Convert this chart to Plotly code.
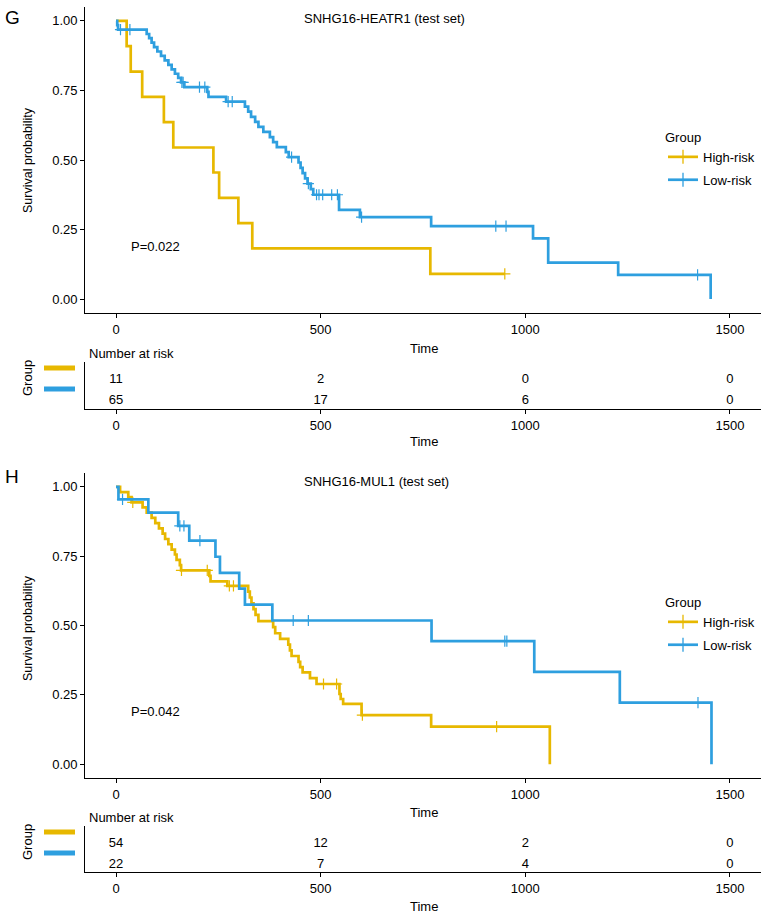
import plotly.graph_objects as go

W, H = 765, 916
FONT = "Liberation Sans, Arial, Helvetica, sans-serif"
C_HIGH = "#E7B800"
C_LOW = "#2E9FDF"

# ---------------- data ----------------
time_ticks = [0, 500, 1000, 1500]
surv_ticks = [0, 0.25, 0.5, 0.75, 1.0]
surv_tick_text = ["0.00", "0.25", "0.50", "0.75", "1.00"]
groups = ["High-risk", "Low-risk"]

# Panel G: SNHG16-HEATR1 (test set)
heatr1_high_event_t = [26, 36, 64, 117, 140, 238, 252, 299, 333, 768]
heatr1_high_surv = [0.909, 0.818, 0.727, 0.636, 0.545, 0.455, 0.364, 0.273, 0.182, 0.091]
heatr1_high_cens_t = [950]

heatr1_low_event_t = [3, 5, 75, 81, 87, 93, 101, 110, 119, 128, 136, 144, 152, 159, 167,
                      223, 226, 269, 315, 323, 330, 340, 348, 360, 376, 384, 393, 415, 422,
                      446, 451, 456, 462, 468, 476, 482, 545, 596, 770, 1019, 1056, 1227, 1453]
heatr1_low_surv = [0.985, 0.969, 0.953, 0.938, 0.922, 0.906, 0.890, 0.874, 0.858, 0.842, 0.826,
                   0.810, 0.795, 0.779, 0.762, 0.745, 0.727, 0.710, 0.692, 0.674, 0.655, 0.637,
                   0.619, 0.601, 0.582, 0.564, 0.546, 0.528, 0.510, 0.491, 0.472, 0.453, 0.434,
                   0.415, 0.395, 0.375, 0.321, 0.295, 0.262, 0.218, 0.131, 0.087, 0.0]
heatr1_low_cens_t = [11, 34, 161, 164, 204, 217, 274, 284, 429, 470, 490, 496, 505, 527, 541,
                     600, 928, 953, 1421]

heatr1_risk_high = [11, 2, 0, 0]
heatr1_risk_low = [65, 17, 6, 0]
heatr1_pval = "P=0.022"
heatr1_title = "SNHG16-HEATR1 (test set)"

# Panel H: SNHG16-MUL1 (test set)
mul1_high_event_t = [10, 30, 38, 65, 75, 87, 96, 105, 114, 120, 128, 136, 144, 148, 156, 159,
                     228, 231, 272, 323, 327, 331, 336, 341, 348, 384, 389, 401, 421, 425, 429,
                     446, 450, 456, 474, 490, 546, 549, 555, 600, 770, 1060]
mul1_high_surv = [0.981, 0.963, 0.944, 0.926, 0.907, 0.888, 0.869, 0.850, 0.831, 0.812, 0.793,
                  0.774, 0.756, 0.737, 0.718, 0.699, 0.679, 0.659, 0.643, 0.622, 0.601, 0.580,
                  0.559, 0.538, 0.516, 0.494, 0.472, 0.452, 0.431, 0.410, 0.390, 0.369, 0.350,
                  0.331, 0.310, 0.289, 0.253, 0.235, 0.217, 0.177, 0.135, 0.0]
mul1_high_cens_t = [41, 160, 223, 277, 287, 507, 539, 602, 930]

mul1_low_event_t = [6, 79, 152, 179, 243, 254, 301, 315, 382, 771, 1022, 1231, 1455]
mul1_low_surv = [0.955, 0.907, 0.859, 0.806, 0.748, 0.690, 0.633, 0.575, 0.518, 0.444,
                 0.333, 0.222, 0.0]
mul1_low_cens_t = [16, 156, 166, 205, 433, 470, 950, 955, 1422]

mul1_risk_high = [54, 12, 2, 0]
mul1_risk_low = [22, 7, 4, 0]
mul1_pval = "P=0.042"
mul1_title = "SNHG16-MUL1 (test set)"


# ---------------- helpers ----------------
def px(x):
    return x / W


def py(y):
    return 1 - y / H


def step_xy(event_t, surv, cens_t):
    xs, ys = [0], [1.0]
    for t, s in zip(event_t, surv):
        xs.append(t)
        ys.append(s)
    if cens_t and max(cens_t) > xs[-1]:
        xs.append(max(cens_t))
        ys.append(ys[-1])
    return xs, ys


def surv_at(t, event_t, surv):
    s = 1.0
    for et, sv in zip(event_t, surv):
        if et <= t:
            s = sv
    return s


fig = go.Figure()

panels = [
    dict(ax="", rx="2", curves=[
        (heatr1_high_event_t, heatr1_high_surv, heatr1_high_cens_t, C_HIGH),
        (heatr1_low_event_t, heatr1_low_surv, heatr1_low_cens_t, C_LOW)],
        risk=[heatr1_risk_high, heatr1_risk_low], legend="legend"),
    dict(ax="3", rx="4", curves=[
        (mul1_high_event_t, mul1_high_surv, mul1_high_cens_t, C_HIGH),
        (mul1_low_event_t, mul1_low_surv, mul1_low_cens_t, C_LOW)],
        risk=[mul1_risk_high, mul1_risk_low], legend="legend2"),
]

for p in panels:
    xa = "x" + p["ax"]
    ya = "y" + p["ax"]
    for (et, sv, ct, col) in p["curves"]:
        xs, ys = step_xy(et, sv, ct)
        fig.add_trace(go.Scatter(x=xs, y=ys, mode="lines", xaxis=xa, yaxis=ya,
                                 line=dict(color=col, width=2.7, shape="hv"),
                                 showlegend=False, hoverinfo="skip"))
        fig.add_trace(go.Scatter(x=ct, y=[surv_at(t, et, sv) for t in ct], mode="markers",
                                 xaxis=xa, yaxis=ya, showlegend=False, hoverinfo="skip",
                                 marker=dict(symbol="cross-thin", size=8, color=col,
                                             line=dict(color=col, width=1.2))))
    # legend entries
    for g, col in zip(groups, [C_HIGH, C_LOW]):
        fig.add_trace(go.Scatter(x=[None], y=[None], mode="lines+markers", name=g,
                                 xaxis=xa, yaxis=ya, legend=p["legend"],
                                 legendgroup=p["legend"] + g,
                                 line=dict(color=col, width=2.7),
                                 marker=dict(symbol="cross-thin", size=10, color=col,
                                             line=dict(color=col, width=1.3))))
    # risk table
    rxa = "x" + p["rx"]
    rya = "y" + p["rx"]
    for row, vals in zip([2, 1], p["risk"]):
        fig.add_trace(go.Scatter(x=time_ticks, y=[row] * len(time_ticks), mode="text",
                                 text=[str(v) for v in vals], xaxis=rxa, yaxis=rya,
                                 textfont=dict(family=FONT, size=13, color="black"),
                                 showlegend=False, hoverinfo="skip"))

axis_common = dict(showline=True, linecolor="black", linewidth=1.2, ticks="outside",
                   ticklen=4, tickwidth=1.1, tickcolor="black", showgrid=False,
                   zeroline=False, tickfont=dict(family=FONT, size=13, color="black"))
x_dom = [px(85.3), px(760.6)]
x_rng = [-75, 1575]

legend_common = dict(xanchor="left", yanchor="top",
                     title=dict(text="Group", font=dict(family=FONT, size=13)),
                     font=dict(family=FONT, size=13), bgcolor="rgba(0,0,0,0)",
                     itemwidth=30, tracegroupgap=3, traceorder="grouped")

layout = dict(
    width=W, height=H, margin=dict(l=0, r=0, t=0, b=0),
    paper_bgcolor="white", plot_bgcolor="white",
    font=dict(family=FONT, size=13, color="black"),
    xaxis=dict(domain=x_dom, range=x_rng, anchor="y", tickvals=time_ticks, **axis_common),
    yaxis=dict(domain=[py(313), py(7)], range=[-0.05, 1.05], anchor="x",
               tickvals=surv_ticks, ticktext=surv_tick_text, **axis_common),
    xaxis2=dict(domain=x_dom, range=x_rng, anchor="y2", tickvals=time_ticks, **axis_common),
    yaxis2=dict(domain=[py(409), py(362)], range=[0.62, 2.86], anchor="x2",
                showline=True, linecolor="black", linewidth=1.2, showticklabels=False,
                ticks="", showgrid=False, zeroline=False),
    xaxis3=dict(domain=x_dom, range=x_rng, anchor="y3", tickvals=time_ticks, **axis_common),
    yaxis3=dict(domain=[py(778), py(473)], range=[-0.05, 1.05], anchor="x3",
                tickvals=surv_ticks, ticktext=surv_tick_text, **axis_common),
    xaxis4=dict(domain=x_dom, range=x_rng, anchor="y4", tickvals=time_ticks, **axis_common),
    yaxis4=dict(domain=[py(872), py(826)], range=[0.65, 2.84], anchor="x4",
                showline=True, linecolor="black", linewidth=1.2, showticklabels=False,
                ticks="", showgrid=False, zeroline=False),
    legend=dict(x=px(663), y=py(125), **legend_common),
    legend2=dict(x=px(663), y=py(590), **legend_common),
)
fig.update_layout(**layout)

ann = []


def A(text, x, y, size=13, xanchor="center", angle=0):
    ann.append(dict(text=text, x=px(x), y=py(y), xref="paper", yref="paper", showarrow=False,
                    xanchor=xanchor, yanchor="middle", textangle=angle,
                    font=dict(family=FONT, size=size, color="black")))


# panel labels
A("G", 12, 17, size=19)
A("H", 12, 477, size=19)
# titles
A(heatr1_title, 302, 19, xanchor="left")
A(mul1_title, 302, 482, xanchor="left")
# p values
A(heatr1_pval, 155, 246)
A(mul1_pval, 155, 711)
# axis titles
A("Survival probability", 28, 160, size=12.5, angle=-90)
A("Survival probability", 28, 628, size=12.5, angle=-90)
A("Time", 424, 348)
A("Time", 424, 442)
A("Time", 424, 812)
A("Time", 424, 906)
# risk table headers
A("Number at risk", 87, 354, xanchor="left")
A("Number at risk", 87, 817, xanchor="left")
A("Group", 27, 378, angle=-90)
A("Group", 27, 842, angle=-90)
fig.update_layout(annotations=ann)

# colour keys of the risk table rows
shapes = []
for ytop, ybot in [(368, 389), (832, 853)]:
    for yc, col in [(ytop, C_HIGH), (ybot, C_LOW)]:
        shapes.append(dict(type="rect", xref="paper", yref="paper", x0=px(44), x1=px(75),
                           y0=py(yc + 2.5), y1=py(yc - 2.5), fillcolor=col, line=dict(width=0)))
fig.update_layout(shapes=shapes)

fig.write_html("out.html", config={"displayModeBar": False},
               post_script="document.body.style.margin='0px';document.body.style.overflow='hidden';")
